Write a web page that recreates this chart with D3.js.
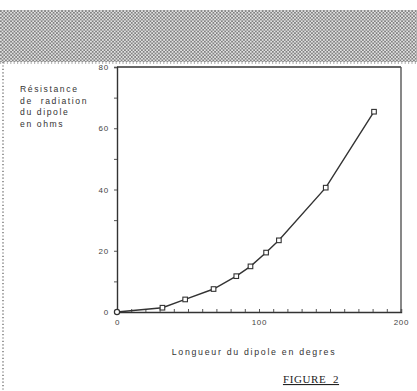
<!DOCTYPE html>
<html><head><meta charset="utf-8">
<script src="https://cdn.jsdelivr.net/npm/d3@7/dist/d3.min.js"></script>
<style>body{margin:0;background:#fff}svg{display:block}</style>
</head><body>
<script>
const lengths = [0, 32, 48, 68, 84, 94, 105, 114, 147, 181];
const resistance = [0, 1.4, 4.1, 7.5, 11.7, 14.9, 19.4, 23.4, 40.6, 65.4];
const xTickLabels = [0, 100, 200];
const yTickLabels = [0, 20, 40, 60, 80];
const yTitle = ["Résistance", "de  radiation", "du dipole", "en ohms"];
const xTitle = "Longueur du dipole en degres";
const figTitle = "FIGURE  2";

const W = 417, H = 391;
const svg = d3.select("body").append("svg").attr("width", W).attr("height", H);
const defs = svg.append("defs");
const pat = defs.append("pattern").attr("id","dots").attr("width",3.4).attr("height",3.4).attr("patternUnits","userSpaceOnUse");
pat.append("rect").attr("width",3.4).attr("height",3.4).attr("fill","#e2e2e2");
pat.append("circle").attr("cx",0.85).attr("cy",0.85).attr("r",0.85).attr("fill","#606060");
pat.append("circle").attr("cx",2.55).attr("cy",2.55).attr("r",0.85).attr("fill","#606060");

svg.append("rect").attr("x",0).attr("y",10).attr("width",W).attr("height",52).attr("fill","url(#dots)");
svg.append("line").attr("x1",3).attr("x2",3).attr("y1",62).attr("y2",H)
  .attr("stroke","#666").attr("stroke-width",1.3).attr("stroke-dasharray","1.2,2.2");
svg.append("line").attr("x1",0).attr("x2",W).attr("y1",63).attr("y2",63)
  .attr("stroke","#777").attr("stroke-width",1.1).attr("stroke-dasharray","1.2,2.2");

const x = d3.scaleLinear().domain([0,200]).range([117,401]);
const y = d3.scaleLinear().domain([0,80]).range([312,67]);
const ink = "#333";

// frame
svg.append("line").attr("x1",x(0)).attr("x2",x(200)).attr("y1",y(80)).attr("y2",y(80)).attr("stroke",ink).attr("stroke-width",1.4);
svg.append("line").attr("x1",x(200)).attr("x2",x(200)).attr("y1",y(80)).attr("y2",y(0)).attr("stroke","#555").attr("stroke-width",1.4);

const gx = svg.append("g").attr("transform",`translate(0,${y(0)})`)
  .call(d3.axisBottom(x).tickValues(d3.range(0,201,10)).tickSize(-3).tickFormat(""));
const gxl = svg.append("g").attr("transform",`translate(0,${y(0)+4})`)
  .call(d3.axisBottom(x).tickValues(xTickLabels).tickSize(0).tickFormat(d3.format("d")));
gxl.select(".domain").remove();
const gy = svg.append("g").attr("transform",`translate(${x(0)},0)`)
  .call(d3.axisLeft(y).tickValues(d3.range(0,81,10)).tickSize(3).tickFormat(""));
const gyl = svg.append("g").attr("transform",`translate(${x(0)-5},0)`)
  .call(d3.axisLeft(y).tickValues(yTickLabels).tickSize(0).tickFormat(d3.format("d")));
gyl.select(".domain").remove();
[gx,gy].forEach(g=>{g.select(".domain").attr("stroke",ink).attr("stroke-width",1.4);g.selectAll(".tick line").attr("stroke","#555");});
[gxl,gyl].forEach(g=>g.selectAll("text").attr("font-family","Liberation Sans, Arial, sans-serif").attr("font-size",8).attr("letter-spacing",0.8).attr("fill","#444"));

svg.append("path").datum(lengths.map((d,i)=>[d,resistance[i]]))
  .attr("d", d3.line().x(d=>x(d[0])).y(d=>y(d[1])))
  .attr("fill","none").attr("stroke",ink).attr("stroke-width",1.4);
svg.selectAll("rect.pt").data(lengths.slice(1).map((d,i)=>[d,resistance[i+1]])).enter().append("rect")
  .attr("class","pt").attr("x",d=>x(d[0])-2.3).attr("y",d=>y(d[1])-2.3).attr("width",4.6).attr("height",4.6)
  .attr("fill","#fff").attr("stroke",ink).attr("stroke-width",1.1);
svg.append("circle").attr("cx",x(lengths[0])).attr("cy",y(resistance[0])).attr("r",2.6)
  .attr("fill","#fff").attr("stroke",ink).attr("stroke-width",1.2);

const sans = "Liberation Sans, Arial, sans-serif";
svg.append("g").selectAll("text").data(yTitle).enter().append("text")
  .attr("x",20).attr("y",(d,i)=>92+i*11.6).text(d=>d).style("white-space","pre")
  .attr("font-family",sans).attr("font-size",8.6).attr("letter-spacing",1.6).attr("fill","#333");
svg.append("text").attr("x",254).attr("y",355).attr("text-anchor","middle").text(xTitle)
  .attr("font-family",sans).attr("font-size",8.8).attr("letter-spacing",1.7).attr("fill","#333");
svg.append("text").attr("x",311).attr("y",383).attr("text-anchor","middle").text(figTitle)
  .attr("font-family","Liberation Serif, Times New Roman, serif").attr("font-size",11).attr("letter-spacing",0.6)
  .attr("fill","#222").attr("text-decoration","underline").style("white-space","pre");
</script>
</body></html>
